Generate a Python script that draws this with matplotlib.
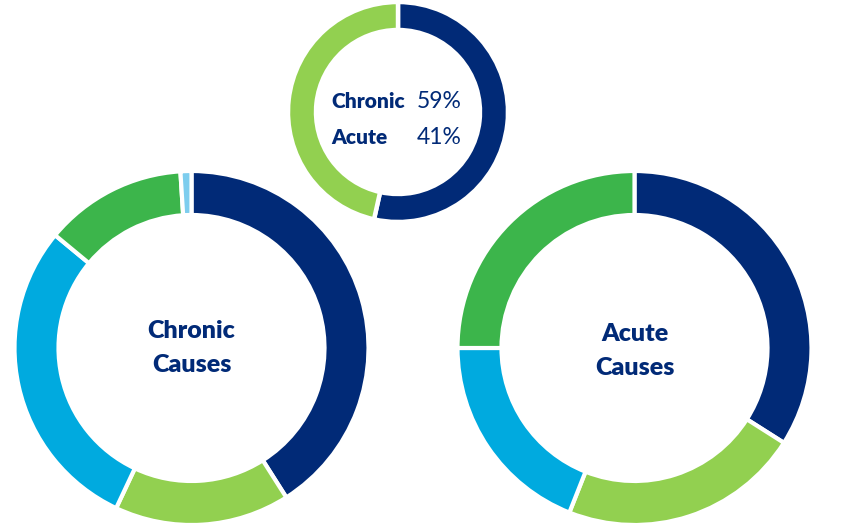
import matplotlib
matplotlib.use("Agg")
import matplotlib.pyplot as plt

# Data
top_labels = ["Chronic", "Acute"]
top_pct_labels = [59, 41]          # percentages printed in the centre
top_shares_drawn = [53.5, 46.5]    # ring split as drawn in the picture

chronic_causes = [41, 16, 29, 13, 1]
acute_causes = [34, 22, 19, 25]

NAVY = "#012A77"
LGREEN = "#92D050"
BLUE = "#00AADF"
GREEN = "#3CB54B"
LBLUE = "#7DCDEE"

top_colors = [NAVY, LGREEN]
chronic_colors = [NAVY, LGREEN, BLUE, GREEN, LBLUE]
acute_colors = [NAVY, LGREEN, BLUE, GREEN]

W, H = 844, 524
fig = plt.figure(figsize=(W / 100, H / 100), dpi=100)
ax = fig.add_axes([0, 0, 1, 1])

FONT = "Lato"

def donut(values, colors, cx, cy, r, w, lw):
    ax.pie(values, colors=colors, startangle=90, counterclock=False,
           center=(cx, cy), radius=r,
           wedgeprops=dict(width=w, edgecolor="white", linewidth=lw))

donut(top_shares_drawn, top_colors, 398, H - 112, 110, 28, 3.2)
donut(chronic_causes, chronic_colors, 191.5, H - 348, 177, 44, 3)
donut(acute_causes, acute_colors, 634.5, H - 348, 177, 44, 3)

ax.set_xlim(0, W)
ax.set_ylim(0, H)
ax.set_aspect("equal")
ax.axis("off")

# top centre labels
for lab, val, y in zip(top_labels, top_pct_labels, [H - 102, H - 137]):
    ax.text(331, y, lab, ha="left", va="center", fontsize=15,
            fontweight="heavy", color=NAVY, family=FONT)
    ax.text(462, y, f"{val}%", ha="right", va="center", fontsize=16.5,
            color=NAVY, family=FONT)

ax.text(191.5, H - 348, "Chronic\nCauses", ha="center", va="center",
        fontsize=18, fontweight="heavy", color=NAVY, family=FONT,
        linespacing=1.62)
ax.text(634.5, H - 351, "Acute\nCauses", ha="center", va="center",
        fontsize=18, fontweight="heavy", color=NAVY, family=FONT,
        linespacing=1.62)

fig.savefig("out.png", dpi=100, facecolor="white")
